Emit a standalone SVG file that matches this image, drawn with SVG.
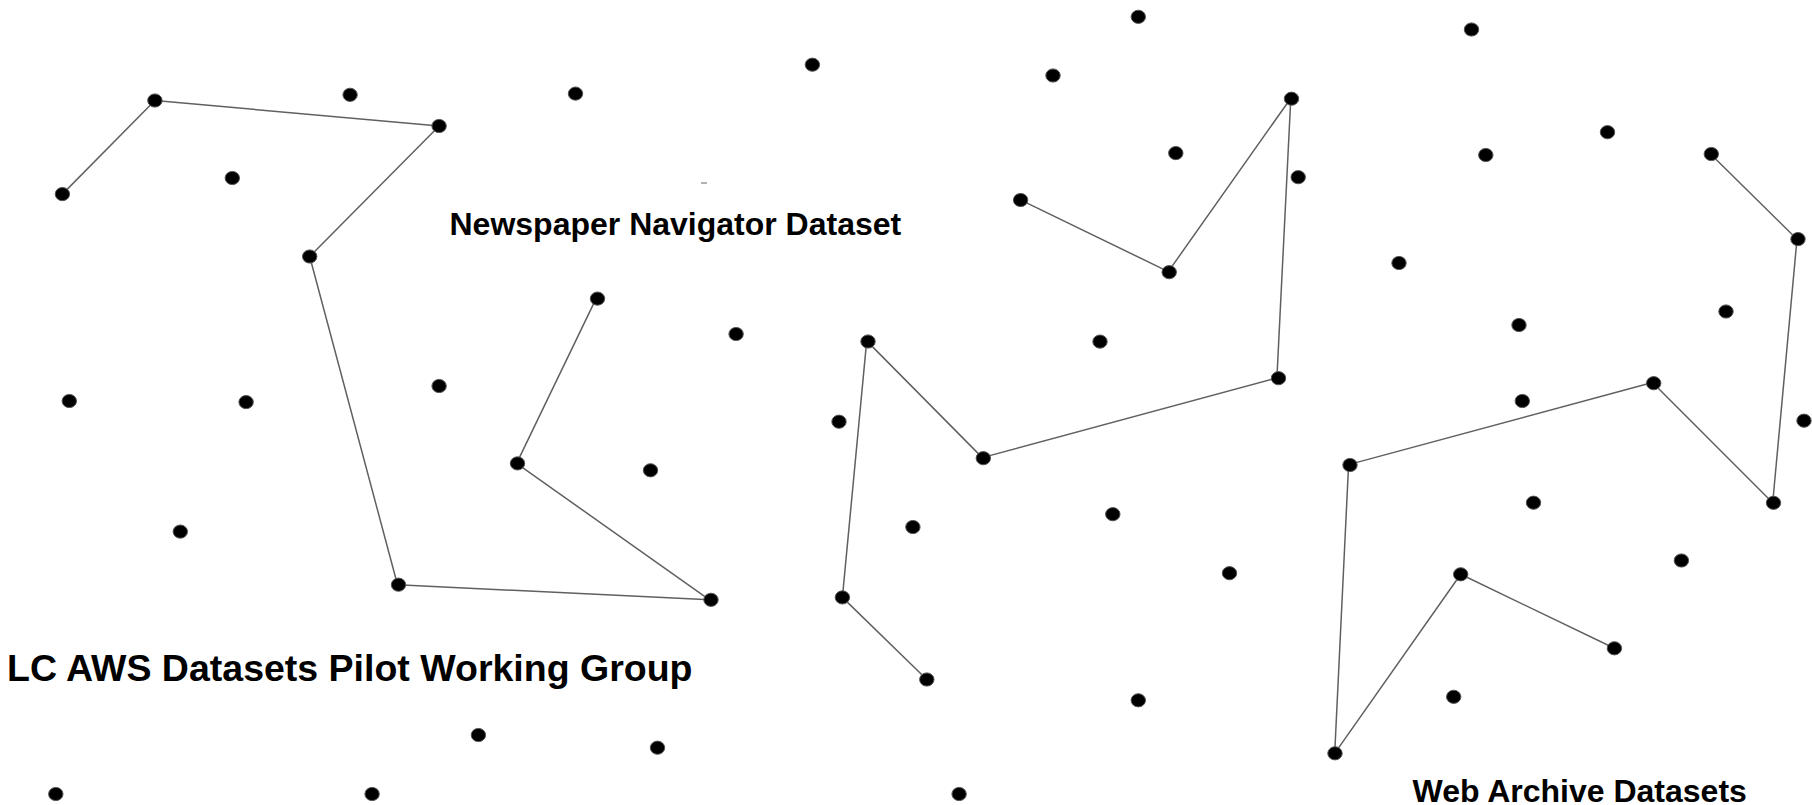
<svg xmlns="http://www.w3.org/2000/svg" width="1812" height="805" viewBox="0 0 1812 805">
<style>
.dot{fill:#000;stroke:#555;stroke-width:1}
.edge{fill:none;stroke:#606060;stroke-width:1.5;stroke-linejoin:round}
.lbl{font-family:"Liberation Sans",Arial,sans-serif;font-weight:bold;fill:#000}
</style>
<rect width="1812" height="805" fill="#fff"/>
<g id="connectors">
<polyline class="edge" points="62.4,194.1 154.9,100.5 439.1,126 309.7,256.5 397.5,584.7 709.5,599.8 516.6,463.4 596.3,298.1"/>
<polyline class="edge" points="1020.4,199.9 1168.3,271.6 1290.8,98.2 1276.9,377.9 982.3,457.6 866.7,340.9 842.4,597.4 926.8,679.5"/>
<polyline class="edge" points="1710.3,153.7 1797,239.2 1772.7,502.7 1652.5,382.5 1348.6,464.6 1334.7,753.4 1460.7,574.3 1614.4,648.3"/>
<line x1="701" y1="183" x2="707" y2="183" stroke="#666" stroke-width="1"/>
</g>
<g id="dots">
<ellipse id="n1" class="dot" cx="1138.3" cy="16.8" rx="7.2" ry="6.6"/>
<ellipse id="n2" class="dot" cx="1471.5" cy="29.5" rx="7.2" ry="6.6"/>
<ellipse id="n3" class="dot" cx="812.4" cy="64.7" rx="7.2" ry="6.6"/>
<ellipse id="n4" class="dot" cx="1053" cy="75.5" rx="7.2" ry="6.6"/>
<ellipse id="n5" class="dot" cx="575.5" cy="93.6" rx="7.2" ry="6.6"/>
<ellipse id="n6" class="dot" cx="350.1" cy="94.8" rx="7.2" ry="6.6"/>
<ellipse id="n7" class="dot" cx="154.9" cy="100.5" rx="7.2" ry="6.6"/>
<ellipse id="n8" class="dot" cx="439.1" cy="126" rx="7.2" ry="6.6"/>
<ellipse id="n9" class="dot" cx="1291.5" cy="98.7" rx="7.2" ry="6.6"/>
<ellipse id="n10" class="dot" cx="1607.5" cy="132.2" rx="7.2" ry="6.6"/>
<ellipse id="n11" class="dot" cx="1711.3" cy="154" rx="7.2" ry="6.6"/>
<ellipse id="n12" class="dot" cx="1175.8" cy="153.1" rx="7.2" ry="6.6"/>
<ellipse id="n13" class="dot" cx="1485.8" cy="155" rx="7.2" ry="6.6"/>
<ellipse id="n14" class="dot" cx="1298.2" cy="177.2" rx="7.2" ry="6.6"/>
<ellipse id="n15" class="dot" cx="232.3" cy="178" rx="7.2" ry="6.6"/>
<ellipse id="n16" class="dot" cx="62.4" cy="194.1" rx="7.2" ry="6.6"/>
<ellipse id="n17" class="dot" cx="1020.6" cy="200" rx="7.2" ry="6.6"/>
<ellipse id="n18" class="dot" cx="1798" cy="239.1" rx="7.2" ry="6.6"/>
<ellipse id="n19" class="dot" cx="309.7" cy="256.5" rx="7.2" ry="6.6"/>
<ellipse id="n20" class="dot" cx="1399" cy="263" rx="7.2" ry="6.6"/>
<ellipse id="n21" class="dot" cx="1169.2" cy="272.2" rx="7.2" ry="6.6"/>
<ellipse id="n22" class="dot" cx="597.5" cy="298.6" rx="7.2" ry="6.6"/>
<ellipse id="n23" class="dot" cx="1726" cy="311.5" rx="7.2" ry="6.6"/>
<ellipse id="n24" class="dot" cx="1519" cy="325" rx="7.2" ry="6.6"/>
<ellipse id="n25" class="dot" cx="736.1" cy="334" rx="7.2" ry="6.6"/>
<ellipse id="n26" class="dot" cx="868" cy="341.5" rx="7.2" ry="6.6"/>
<ellipse id="n27" class="dot" cx="1100" cy="341.6" rx="7.2" ry="6.6"/>
<ellipse id="n28" class="dot" cx="1278.5" cy="378.2" rx="7.2" ry="6.6"/>
<ellipse id="n29" class="dot" cx="1653.7" cy="383.2" rx="7.2" ry="6.6"/>
<ellipse id="n30" class="dot" cx="439.1" cy="386" rx="7.2" ry="6.6"/>
<ellipse id="n31" class="dot" cx="1522.3" cy="401" rx="7.2" ry="6.6"/>
<ellipse id="n32" class="dot" cx="69.3" cy="401" rx="7.2" ry="6.6"/>
<ellipse id="n33" class="dot" cx="246.1" cy="402.1" rx="7.2" ry="6.6"/>
<ellipse id="n34" class="dot" cx="839" cy="421.7" rx="7.2" ry="6.6"/>
<ellipse id="n35" class="dot" cx="1804" cy="420.7" rx="7.2" ry="6.6"/>
<ellipse id="n36" class="dot" cx="983.3" cy="458.2" rx="7.2" ry="6.6"/>
<ellipse id="n37" class="dot" cx="1350" cy="465" rx="7.2" ry="6.6"/>
<ellipse id="n38" class="dot" cx="517.5" cy="463.4" rx="7.2" ry="6.6"/>
<ellipse id="n39" class="dot" cx="650.5" cy="470.3" rx="7.2" ry="6.6"/>
<ellipse id="n40" class="dot" cx="1533.5" cy="502.7" rx="7.2" ry="6.6"/>
<ellipse id="n41" class="dot" cx="1773.5" cy="502.8" rx="7.2" ry="6.6"/>
<ellipse id="n42" class="dot" cx="1112.8" cy="514.2" rx="7.2" ry="6.6"/>
<ellipse id="n43" class="dot" cx="912.9" cy="527" rx="7.2" ry="6.6"/>
<ellipse id="n44" class="dot" cx="180.3" cy="531.6" rx="7.2" ry="6.6"/>
<ellipse id="n45" class="dot" cx="1681.4" cy="560.5" rx="7.2" ry="6.6"/>
<ellipse id="n46" class="dot" cx="1229.5" cy="573.2" rx="7.2" ry="6.6"/>
<ellipse id="n47" class="dot" cx="1460.7" cy="574.3" rx="7.2" ry="6.6"/>
<ellipse id="n48" class="dot" cx="398.5" cy="584.7" rx="7.2" ry="6.6"/>
<ellipse id="n49" class="dot" cx="711" cy="599.8" rx="7.2" ry="6.6"/>
<ellipse id="n50" class="dot" cx="842.4" cy="597.4" rx="7.2" ry="6.6"/>
<ellipse id="n51" class="dot" cx="1614.4" cy="648.3" rx="7.2" ry="6.6"/>
<ellipse id="n52" class="dot" cx="926.8" cy="679.5" rx="7.2" ry="6.6"/>
<ellipse id="n53" class="dot" cx="1138.3" cy="700.3" rx="7.2" ry="6.6"/>
<ellipse id="n54" class="dot" cx="1453.7" cy="696.8" rx="7.2" ry="6.6"/>
<ellipse id="n55" class="dot" cx="478.4" cy="735" rx="7.2" ry="6.6"/>
<ellipse id="n56" class="dot" cx="657.5" cy="747.7" rx="7.2" ry="6.6"/>
<ellipse id="n57" class="dot" cx="1335" cy="753.3" rx="7.2" ry="6.6"/>
<ellipse id="n58" class="dot" cx="55.8" cy="794" rx="7.2" ry="6.6"/>
<ellipse id="n59" class="dot" cx="372.1" cy="794" rx="7.2" ry="6.6"/>
<ellipse id="n60" class="dot" cx="959.1" cy="794" rx="7.2" ry="6.6"/>
</g>
<g id="label-newspaper"><text class="lbl" x="449.5" y="234.5" font-size="32">Newspaper Navigator Dataset</text></g>
<g id="label-lc-aws"><text class="lbl" x="7" y="680.5" font-size="37.5">LC AWS Datasets Pilot Working Group</text></g>
<g id="label-web-archive"><text class="lbl" x="1412.5" y="801.5" font-size="32">Web Archive Datasets</text></g>
</svg>
